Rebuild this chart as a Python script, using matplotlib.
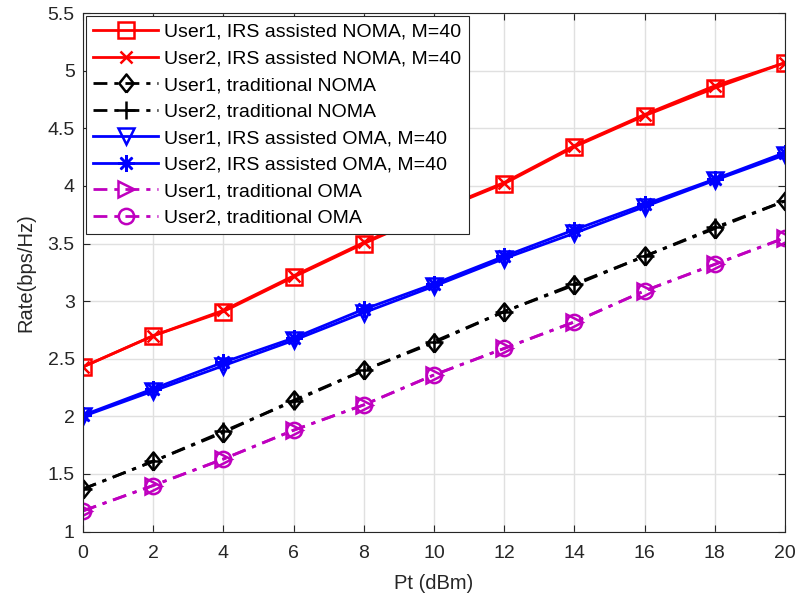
import matplotlib
matplotlib.use("Agg")
import matplotlib.pyplot as plt

plt.rcParams['font.family'] = ['Liberation Sans', 'DejaVu Sans']

pt_dbm = [0, 2, 4, 6, 8, 10, 12, 14, 16, 18, 20]

irs_noma_u1 = [2.43, 2.70, 2.91, 3.21, 3.50, 3.77, 4.02, 4.34, 4.61, 4.85, 5.07]
irs_noma_u2 = [2.43, 2.70, 2.92, 3.22, 3.51, 3.78, 4.03, 4.35, 4.62, 4.87, 5.07]
trad_noma_u1 = [1.37, 1.61, 1.86, 2.14, 2.40, 2.64, 2.91, 3.14, 3.39, 3.63, 3.87]
trad_noma_u2 = [1.37, 1.61, 1.87, 2.13, 2.40, 2.65, 2.91, 3.15, 3.39, 3.64, 3.87]
irs_oma_u1 = [2.00, 2.22, 2.44, 2.66, 2.90, 3.13, 3.37, 3.59, 3.82, 4.05, 4.27]
irs_oma_u2 = [2.01, 2.24, 2.47, 2.68, 2.93, 3.15, 3.39, 3.62, 3.84, 4.06, 4.29]
trad_oma_u1 = [1.18, 1.40, 1.63, 1.88, 2.10, 2.36, 2.59, 2.82, 3.09, 3.32, 3.55]
trad_oma_u2 = [1.18, 1.40, 1.63, 1.88, 2.10, 2.36, 2.59, 2.82, 3.09, 3.32, 3.55]

labels = [
    "User1, IRS assisted NOMA, M=40",
    "User2, IRS assisted NOMA, M=40",
    "User1, traditional NOMA",
    "User2, traditional NOMA",
    "User1, IRS assisted OMA, M=40",
    "User2, IRS assisted OMA, M=40",
    "User1, traditional OMA",
    "User2, traditional OMA",
]

fig = plt.figure(figsize=(7.98, 6.0), dpi=100)
ax = fig.add_axes([0.104, 0.114, 0.8797, 0.864])

red = (1, 0, 0)
blue = (0, 0, 1)
mag = (0.75, 0, 0.75)
dark = (0.15, 0.15, 0.15)
lw = 2.0
mew = 1.8
dashdot = (5, 2.5, 1.5, 2.5)
# slightly tall diamond outline
diamond = [(0, -1), (0.8, 0), (0, 1), (-0.8, 0), (0, -1)]

ax.plot(pt_dbm, irs_noma_u1, '-', color=red, lw=lw, marker='s', ms=11,
        mfc='none', mew=mew, label=labels[0])
ax.plot(pt_dbm, irs_noma_u2, '-', color=red, lw=lw, marker='x', ms=9,
        mew=mew, label=labels[1])
ax.plot(pt_dbm, trad_noma_u1, '-.', color='k', lw=lw, marker=diamond, ms=13,
        mfc='none', mew=mew, label=labels[2], dashes=dashdot)
ax.plot(pt_dbm, trad_noma_u2, '-.', color='k', lw=lw, marker='+', ms=13,
        mew=mew, label=labels[3], dashes=dashdot)
ax.plot(pt_dbm, irs_oma_u1, '-', color=blue, lw=lw, marker='v', ms=12,
        mfc='none', mew=mew, label=labels[4])
ax.plot(pt_dbm, irs_oma_u2, '-', color=blue, lw=lw, marker=(8, 2, 0), ms=12,
        mew=mew, label=labels[5])
ax.plot(pt_dbm, trad_oma_u1, '-.', color=mag, lw=lw, marker='>', ms=12,
        mfc='none', mew=mew, label=labels[6], dashes=dashdot)
ax.plot(pt_dbm, trad_oma_u2, '-.', color=mag, lw=lw, marker='o', ms=11,
        mfc='none', mew=mew, label=labels[7], dashes=dashdot)

ax.set_xlim(0, 20)
ax.set_ylim(1, 5.5)
ax.set_xticks(range(0, 21, 2))
ax.set_yticks([1, 1.5, 2, 2.5, 3, 3.5, 4, 4.5, 5, 5.5])
ax.set_yticklabels(['1', '1.5', '2', '2.5', '3', '3.5', '4', '4.5', '5', '5.5'])
ax.grid(True, color=(0.88, 0.88, 0.88), lw=1.0)
ax.set_axisbelow(True)
ax.tick_params(direction='in', top=True, right=True, labelsize=14,
               colors=dark, length=5, width=0.8)
ax.tick_params(axis='x', pad=10)
ax.tick_params(axis='y', pad=6)
for s in ax.spines.values():
    s.set_color(dark)
    s.set_linewidth(0.8)

ax.set_xlabel('Pt (dBm)', fontsize=14.5, color=dark, labelpad=8)
ax.set_ylabel('Rate(bps/Hz)', fontsize=14.5, color=dark, labelpad=9)

leg = ax.legend(loc='upper left', fontsize=14, frameon=True, fancybox=False,
                framealpha=1.0, edgecolor=dark,
                borderaxespad=0.14, handlelength=3.35, handletextpad=0.31,
                labelspacing=0.46, borderpad=0.38)
leg.get_frame().set_linewidth(0.8)
leg.set_zorder(10)

fig.savefig('out.png', dpi=100)
